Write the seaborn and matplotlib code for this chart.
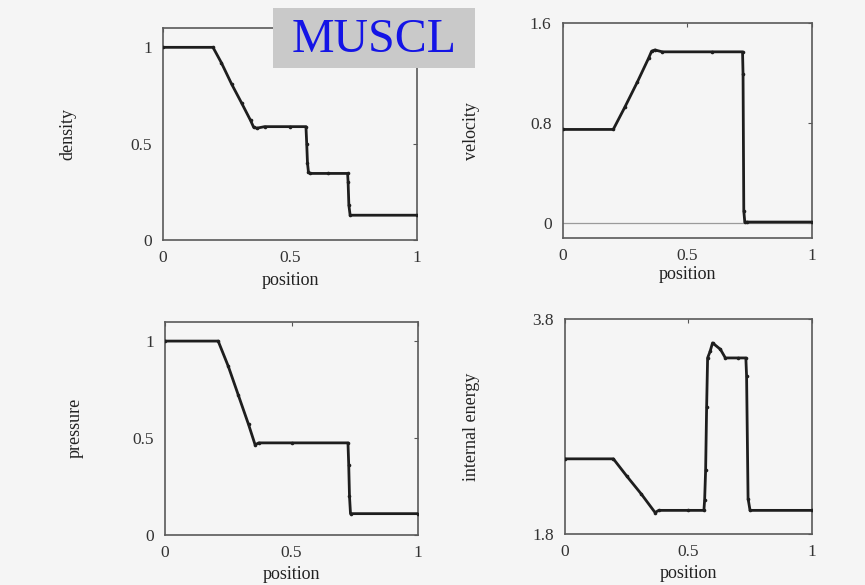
import matplotlib
matplotlib.use("Agg")
import matplotlib.pyplot as plt
import seaborn as sns
import pandas as pd

# Toro-type shock tube, MUSCL solution profiles
dens_x = [0.0, 0.197, 0.23, 0.27, 0.31, 0.345, 0.357, 0.37, 0.40, 0.50, 0.563, 0.566, 0.569, 0.573, 0.58, 0.65, 0.727, 0.729, 0.732, 0.737, 1.0]
dens_y = [1.0, 1.0, 0.92, 0.81, 0.71, 0.62, 0.585, 0.58, 0.588, 0.588, 0.588, 0.50, 0.40, 0.35, 0.345, 0.345, 0.345, 0.30, 0.18, 0.128, 0.128]

vel_x = [0.0, 0.203, 0.25, 0.30, 0.345, 0.357, 0.37, 0.40, 0.60, 0.722, 0.724, 0.727, 0.731, 0.74, 1.0]
vel_y = [0.75, 0.75, 0.93, 1.13, 1.32, 1.375, 1.385, 1.37, 1.37, 1.37, 1.19, 0.10, 0.01, 0.01, 0.01]

pres_x = [0.0, 0.21, 0.25, 0.29, 0.33, 0.356, 0.37, 0.50, 0.723, 0.726, 0.729, 0.733, 1.0]
pres_y = [1.0, 1.0, 0.87, 0.72, 0.57, 0.465, 0.475, 0.475, 0.475, 0.36, 0.20, 0.11, 0.11]

en_x = [0.0, 0.196, 0.25, 0.31, 0.365, 0.38, 0.50, 0.563, 0.566, 0.570, 0.574, 0.578, 0.588, 0.598, 0.63, 0.65, 0.70, 0.733, 0.736, 0.742, 0.75, 1.0]
en_y = [2.5, 2.5, 2.34, 2.17, 2.0, 2.02, 2.02, 2.02, 2.12, 2.40, 2.98, 3.44, 3.50, 3.58, 3.52, 3.44, 3.44, 3.44, 3.27, 2.13, 2.02, 2.02]

panels = [
    ("density", dens_x, dens_y, (0.0, 1.1), [0, 0.5, 1], ["0", "0.5", "1"]),
    ("velocity", vel_x, vel_y, (-0.12, 1.6), [0, 0.8, 1.6], ["0", "0.8", "1.6"]),
    ("pressure", pres_x, pres_y, (0.0, 1.1), [0, 0.5, 1], ["0", "0.5", "1"]),
    ("internal energy", en_x, en_y, (1.8, 3.8), [1.8, 3.8], ["1.8", "3.8"]),
]

# axes rectangles in figure fractions
rects = [
    [0.1884, 0.590, 0.2936, 0.362],
    [0.6505, 0.5926, 0.288, 0.368],
    [0.1908, 0.0855, 0.2925, 0.3646],
    [0.6532, 0.0872, 0.2852, 0.367],
]
ylab_x = [-0.374, -0.365, -0.356, -0.378]
xlab_y = [-0.19, -0.168, -0.1875, -0.183]

sns.set_theme(style="white")
plt.rcParams["font.family"] = ["Liberation Serif", "DejaVu Serif"]

bg = "#f5f5f5"
fig = plt.figure(figsize=(8.65, 5.85), dpi=100, facecolor=bg)

for i, (name, xs, ys, ylim, yt, ytl) in enumerate(panels):
    ax = fig.add_axes(rects[i], facecolor=bg)
    df = pd.DataFrame({"position": xs, name: ys})
    if name == "velocity":
        ax.axhline(0, color="#9a9a9a", lw=0.9, zorder=1)
    sns.lineplot(data=df, x="position", y=name, ax=ax, estimator=None, sort=False,
                 color="#1e1e1e", lw=2.0, marker="o", markersize=2.6,
                 markeredgewidth=0, zorder=3)
    ax.set_xlim(0, 1)
    ax.set_ylim(*ylim)
    ax.set_xticks([0, 0.5, 1])
    ax.set_xticklabels(["0", "0.5", "1"])
    ax.set_yticks(yt)
    ax.set_yticklabels(ytl)
    ax.tick_params(direction="in", length=3, width=0.8, color="#555555",
                   top=True, right=True, labelsize=12.5, labelcolor="#333333")
    ax.tick_params(axis="y", pad=8)
    ax.tick_params(axis="x", pad=7)
    for sp in ax.spines.values():
        sp.set_color("#5a5a5a")
        sp.set_linewidth(1.2)
    ax.set_xlabel("position", fontsize=13, color="#222222", va="center")
    ax.set_ylabel(name, fontsize=13, color="#222222", va="center")
    ax.yaxis.set_label_coords(ylab_x[i], 0.5)
    ax.xaxis.set_label_coords(0.5, xlab_y[i])

# method label on a grey plate
fig.patches.append(plt.Rectangle((273 / 865, 1 - 68 / 585), 202 / 865, 60 / 585,
                                 transform=fig.transFigure, facecolor="#c9c9c9",
                                 edgecolor="none", zorder=10))
fig.text(374 / 865, 1 - 40 / 585, "MUSCL", color="#1414e6", fontsize=34.5,
         ha="center", va="center", zorder=11)

fig.savefig("out.png", dpi=100, facecolor=bg)
